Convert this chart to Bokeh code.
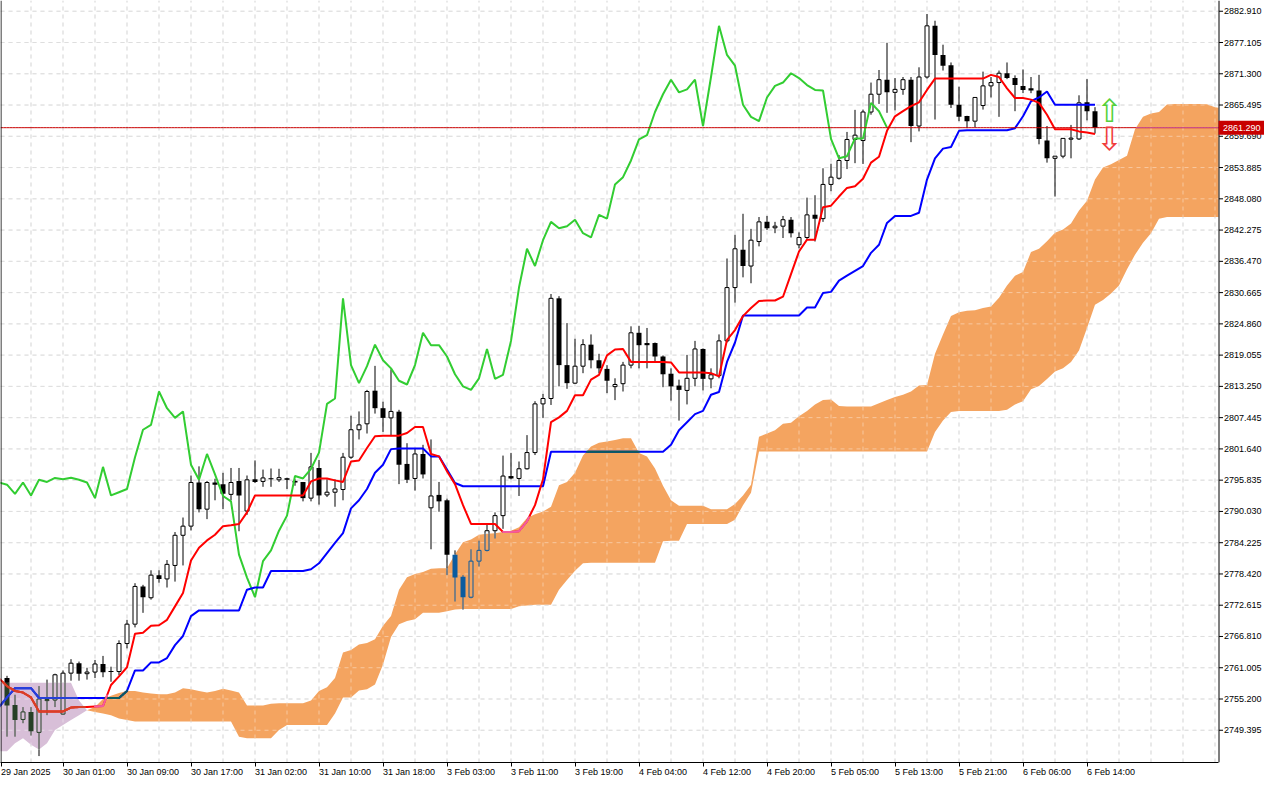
import numpy as np
from bokeh.plotting import figure
from bokeh.models import FixedTicker, Range1d
from bokeh.core.properties import value
from bokeh.embed import file_html
from bokeh.resources import INLINE

# ---------------- data (XAUUSD H1, bars indexed from 29 Jan 17:00) ----------------
opens = [2759.1, 2754.1, 2751.4, 2752.8, 2749.0, 2754.9, 2755.0, 2752.4, 2760.0, 2761.85,
         2759.9, 2760.2, 2761.7, 2760.4, 2760.3, 2765.5, 2769.1, 2776.1, 2774.0, 2778.2,
         2777.5, 2780.0, 2785.6, 2787.3, 2795.4, 2790.45, 2795.4, 2795.1, 2793.2, 2795.7,
         2790.1, 2796.0, 2795.6, 2796.2, 2795.9, 2796.2, 2795.7, 2795.5, 2792.5, 2798.1,
         2793.1, 2793.6, 2794.1, 2800.1, 2805.2, 2806.3, 2812.45, 2809.2, 2807.4, 2808.55,
         2798.85, 2796.15, 2800.7, 2790.7, 2793.1, 2792.1, 2782.0, 2777.9, 2774.1, 2780.8,
         2782.8, 2786.45, 2789.25, 2796.6, 2796.15, 2797.95, 2800.96, 2810.0, 2811.0, 2829.6,
         2817.2, 2813.85, 2817.0, 2821.0, 2818.1, 2816.5, 2813.2, 2813.75, 2817.2, 2823.2,
         2821.3, 2821.3, 2818.8, 2815.6, 2813.4, 2812.5, 2814.75, 2820.2, 2814.65, 2815.25,
         2821.7, 2831.6, 2838.6, 2835.6, 2840.15, 2843.8, 2842.7, 2843.0, 2844.2, 2839.55,
         2840.9, 2845.1, 2844.4, 2850.75, 2851.9, 2855.2, 2859.1, 2858.9, 2864.2, 2867.5,
         2870.2, 2867.85, 2868.4, 2870.2, 2861.6, 2870.7, 2880.2, 2874.8, 2872.9, 2865.55,
         2863.45, 2862.5, 2865.4, 2869.05, 2869.67, 2871.4, 2870.5, 2869.05, 2868.6, 2868.2,
         2858.9, 2855.6, 2856.0, 2859.15, 2859.2, 2866.0, 2864.35]
highs = [2759.5, 2756.0, 2753.7, 2753.7, 2757.6, 2758.8, 2759.9, 2760.5, 2762.6, 2762.15,
         2761.0, 2762.45, 2763.2, 2761.2, 2766.1, 2769.9, 2776.7, 2776.4, 2779.1, 2779.1,
         2781.0, 2786.2, 2788.9, 2796.7, 2798.4, 2795.7, 2796.1, 2797.2, 2798.1, 2798.1,
         2796.7, 2799.5, 2797.8, 2798.0, 2797.95, 2796.3, 2796.0, 2795.5, 2800.9, 2799.6,
         2796.0, 2796.0, 2800.9, 2807.8, 2808.6, 2812.6, 2817.06, 2810.4, 2816.4, 2808.9,
         2802.7, 2801.8, 2802.4, 2803.4, 2795.5, 2792.4, 2782.8, 2778.2, 2783.0, 2784.6,
         2787.85, 2789.85, 2800.4, 2800.9, 2799.3, 2804.2, 2810.5, 2811.85, 2830.4, 2830.0,
         2825.0, 2822.1, 2822.0, 2822.9, 2819.3, 2817.2, 2814.75, 2817.8, 2824.4, 2824.5,
         2824.1, 2821.4, 2819.0, 2816.6, 2814.5, 2819.1, 2821.7, 2820.3, 2816.6, 2822.9,
         2837.0, 2841.4, 2845.3, 2842.5, 2844.7, 2844.9, 2843.8, 2844.9, 2844.7, 2841.85,
         2848.3, 2848.75, 2853.75, 2854.6, 2856.2, 2860.5, 2864.6, 2864.65, 2869.67, 2872.0,
         2877.05, 2870.5, 2870.7, 2870.7, 2872.5, 2882.4, 2881.15, 2876.7, 2873.4, 2868.9,
         2863.5, 2866.9, 2871.7, 2870.7, 2871.9, 2873.4, 2871.0, 2872.1, 2870.7, 2871.1,
         2861.6, 2856.0, 2859.3, 2861.8, 2867.3, 2870.3, 2865.1]
lows = [2748.2, 2748.2, 2750.7, 2748.4, 2744.6, 2752.2, 2753.7, 2752.3, 2758.6, 2758.6,
        2758.8, 2759.1, 2759.25, 2758.4, 2759.6, 2764.6, 2768.5, 2771.2, 2773.65, 2776.8,
        2775.9, 2777.0, 2780.0, 2786.5, 2789.85, 2788.6, 2792.1, 2790.45, 2792.1, 2786.35,
        2789.4, 2795.3, 2794.6, 2794.6, 2795.5, 2794.2, 2794.8, 2791.9, 2791.9, 2791.3,
        2792.7, 2790.9, 2792.1, 2799.8, 2803.4, 2804.5, 2808.2, 2804.8, 2804.0, 2795.1,
        2795.3, 2793.9, 2796.15, 2783.0, 2789.97, 2778.2, 2773.3, 2771.8, 2773.9, 2779.8,
        2782.6, 2785.0, 2786.8, 2796.0, 2792.9, 2797.8, 2800.5, 2807.4, 2809.8, 2813.25,
        2812.8, 2813.7, 2815.7, 2816.6, 2815.7, 2812.0, 2810.7, 2812.3, 2816.6, 2816.6,
        2816.6, 2817.9, 2813.1, 2810.6, 2806.9, 2809.9, 2813.25, 2812.5, 2812.9, 2814.75,
        2821.4, 2828.8, 2833.5, 2832.4, 2839.25, 2842.3, 2841.7, 2840.8, 2840.9, 2838.9,
        2840.5, 2840.15, 2843.8, 2849.5, 2851.65, 2853.6, 2854.7, 2854.55, 2863.7, 2865.7,
        2864.05, 2864.5, 2867.4, 2858.6, 2860.6, 2870.4, 2862.8, 2871.9, 2864.95, 2862.5,
        2861.2, 2861.3, 2864.65, 2866.9, 2863.3, 2870.3, 2864.35, 2867.7, 2867.7, 2858.2,
        2854.8, 2848.5, 2855.6, 2855.6, 2859.0, 2862.65, 2860.2]
closes = [2754.0, 2751.3, 2752.8, 2749.2, 2755.2, 2755.1, 2759.7, 2760.0, 2761.85, 2759.9,
          2760.2, 2761.7, 2760.15, 2760.2, 2765.5, 2769.1, 2776.1, 2774.1, 2778.2, 2777.5,
          2780.2, 2785.6, 2787.3, 2795.4, 2790.45, 2795.4, 2795.0, 2793.3, 2795.4, 2793.0,
          2795.9, 2795.5, 2796.25, 2796.0, 2796.3, 2795.9, 2795.4, 2792.5, 2798.3, 2793.0,
          2793.6, 2794.2, 2800.1, 2805.2, 2806.1, 2812.3, 2809.2, 2807.4, 2808.6, 2798.7,
          2795.9, 2800.7, 2796.9, 2792.9, 2791.9, 2782.0, 2777.75, 2774.1, 2780.8, 2782.8,
          2786.45, 2789.25, 2796.6, 2796.15, 2797.95, 2800.96, 2810.0, 2811.0, 2829.6, 2817.2,
          2813.85, 2817.0, 2821.0, 2818.1, 2816.6, 2814.3, 2813.6, 2817.2, 2823.2, 2820.9,
          2820.9, 2818.8, 2815.5, 2813.25, 2812.6, 2814.75, 2820.2, 2814.65, 2815.4, 2821.7,
          2831.6, 2838.8, 2835.6, 2840.4, 2843.8, 2842.6, 2843.0, 2844.2, 2841.7, 2840.9,
          2845.1, 2844.4, 2850.75, 2852.1, 2855.2, 2859.1, 2859.9, 2864.2, 2867.5, 2870.2,
          2867.85, 2868.4, 2870.2, 2861.6, 2870.7, 2880.2, 2874.8, 2872.8, 2865.55, 2863.3,
          2862.5, 2866.9, 2869.05, 2869.67, 2871.4, 2870.5, 2869.2, 2868.3, 2868.2, 2859.2,
          2855.6, 2856.0, 2859.3, 2859.3, 2865.9, 2864.35, 2861.29]

# Tenkan-sen / Kijun-sen, bar -1 .. 136
tenkan = [2759.0, 2757.6, 2756.7, 2756.4, 2755.5, 2752.9, 2752.9, 2752.9, 2752.9, 2753.6,
          2753.7, 2753.7, 2753.8, 2753.9, 2757.8, 2759.4, 2761.1, 2767.3, 2767.5, 2768.8,
          2768.9, 2769.9, 2772.4, 2774.9, 2780.9, 2783.3, 2784.65, 2785.7, 2787.3, 2787.45,
          2787.7, 2789.85, 2793.0, 2793.0, 2793.0, 2793.0, 2793.0, 2793.0, 2793.0, 2795.6,
          2796.15, 2796.15, 2795.8, 2795.5, 2799.3, 2799.5, 2801.8, 2804.0, 2804.1, 2804.1,
          2804.1, 2804.6, 2805.7, 2805.7, 2800.7, 2800.25, 2797.5, 2795.1, 2791.2, 2787.7,
          2787.7, 2787.7, 2787.7, 2786.2, 2786.2, 2786.35, 2788.2, 2791.2, 2796.0, 2806.6,
          2807.5, 2808.7, 2811.6, 2811.6, 2814.5, 2815.4, 2819.0, 2820.1, 2820.2, 2817.8,
          2817.8, 2817.8, 2817.8, 2817.8, 2817.7, 2815.85, 2815.85, 2815.85, 2815.85, 2815.7,
          2815.1, 2821.9, 2823.7, 2826.3, 2827.8, 2829.1, 2829.2, 2829.2, 2829.9, 2834.1,
          2838.3, 2840.5, 2840.5, 2846.5, 2846.8, 2848.5, 2850.1, 2850.4, 2851.8, 2854.8,
          2855.9, 2860.7, 2863.4, 2864.35, 2865.3, 2866.0, 2868.3, 2870.4, 2870.4, 2870.4,
          2870.4, 2870.4, 2870.4, 2870.4, 2871.1, 2870.7, 2868.6, 2866.8, 2866.8, 2866.5,
          2865.9, 2863.7, 2861.0, 2861.0, 2861.0, 2860.6, 2860.4, 2860.1]
kijun = [2753.7, 2755.5, 2757.2, 2757.2, 2757.2, 2755.4, 2755.4, 2755.4, 2755.4, 2755.4,
         2755.4, 2755.4, 2755.4, 2755.4, 2755.4, 2755.4, 2756.7, 2760.5, 2760.5, 2762.0,
         2762.0, 2762.8, 2765.2, 2766.9, 2770.6, 2771.65, 2771.65, 2771.65, 2771.65, 2771.65,
         2771.65, 2775.5, 2775.9, 2775.9, 2778.96, 2778.96, 2778.96, 2778.96, 2778.96, 2779.3,
         2780.4, 2782.3, 2784.2, 2786.0, 2790.6, 2792.1, 2794.2, 2797.2, 2798.7, 2801.6,
         2801.7, 2801.7, 2801.7, 2801.7, 2800.25, 2800.25, 2797.8, 2795.3, 2794.7, 2794.7,
         2794.7, 2794.7, 2794.7, 2794.7, 2794.7, 2794.7, 2794.7, 2794.7, 2794.7, 2801.1,
         2801.1, 2801.1, 2801.1, 2801.1, 2801.1, 2801.1, 2801.1, 2801.1, 2801.1, 2801.1,
         2801.1, 2801.1, 2801.1, 2801.1, 2802.4, 2805.1, 2806.6, 2808.1, 2808.7, 2811.7,
         2812.2, 2817.8, 2821.4, 2826.4, 2826.4, 2826.4, 2826.4, 2826.4, 2826.4, 2826.4,
         2826.4, 2827.9, 2827.9, 2830.6, 2830.8, 2832.9, 2833.8, 2834.7, 2835.6, 2838.05,
         2839.55, 2843.6, 2844.9, 2844.9, 2844.9, 2845.5, 2851.65, 2855.6, 2857.4, 2857.7,
         2860.7, 2860.8, 2860.8, 2860.8, 2860.8, 2860.8, 2860.8, 2861.2, 2863.4, 2866.2,
         2866.9, 2868.0, 2865.55, 2865.55, 2865.55, 2865.55, 2865.55, 2865.55]

# Senkou span A / B (already shifted 26 bars forward), bar -1 .. 152
span_a = [2745.5, 2745.5, 2747.0, 2747.9, 2746.7, 2745.8, 2747.0, 2749.45, 2750.35, 2751.3,
          2752.2, 2753.1, 2753.7, 2755.2, 2755.8, 2756.3, 2756.7, 2756.7, 2756.4, 2756.2,
          2756.1, 2756.1, 2756.4, 2757.2, 2757.0, 2756.7, 2756.4, 2756.7, 2757.1, 2756.8,
          2756.4, 2754.0, 2754.0, 2754.0, 2754.3, 2754.4, 2754.4, 2754.4, 2754.4, 2754.9,
          2756.7, 2757.4, 2759.1, 2763.85, 2764.3, 2765.3, 2765.6, 2766.3, 2768.8, 2770.6,
          2775.5, 2777.8, 2778.4, 2778.8, 2779.4, 2779.5, 2779.5, 2782.1, 2784.3, 2784.8,
          2785.7, 2785.9, 2786.0, 2786.2, 2786.45, 2787.1, 2788.8, 2789.5, 2790.0, 2790.9,
          2794.9, 2795.5, 2797.2, 2800.4, 2802.1, 2802.8, 2803.0, 2803.3, 2803.6, 2803.6,
          2800.9, 2800.25, 2798.0, 2794.8, 2792.1, 2791.1, 2791.1, 2791.1, 2791.1, 2790.45,
          2790.45, 2790.45, 2791.4, 2793.0, 2795.0, 2803.9, 2804.5, 2805.1, 2806.3, 2806.5,
          2807.7, 2808.7, 2809.9, 2810.7, 2810.8, 2809.6, 2809.5, 2809.5, 2809.5, 2809.5,
          2810.1, 2810.7, 2811.3, 2811.7, 2812.3, 2813.4, 2813.5, 2819.3, 2822.9, 2826.3,
          2827.0, 2827.3, 2827.4, 2827.8, 2828.1, 2829.7, 2832.0, 2833.8, 2834.5, 2838.2,
          2838.8, 2840.2, 2841.8, 2842.4, 2843.5, 2845.9, 2847.7, 2851.65, 2853.9, 2854.5,
          2855.3, 2856.1, 2861.0, 2863.3, 2863.9, 2864.2, 2865.6, 2865.7, 2865.7, 2865.7,
          2865.7, 2865.65, 2865.1, 2864.9]
span_b = [2758.2, 2758.2, 2758.2, 2758.2, 2758.2, 2758.2, 2758.2, 2758.2, 2758.2, 2758.2,
          2754.9, 2753.1, 2752.8, 2752.5, 2752.2, 2751.6, 2751.3, 2751.0, 2751.0, 2751.0,
          2751.0, 2751.0, 2751.0, 2751.0, 2751.0, 2751.0, 2751.0, 2751.0, 2751.0, 2751.0,
          2748.2, 2747.9, 2747.9, 2747.9, 2747.9, 2749.45, 2750.35, 2750.35, 2750.35, 2750.35,
          2750.35, 2750.35, 2752.5, 2755.5, 2755.5, 2756.8, 2757.0, 2757.9, 2761.6, 2766.7,
          2769.1, 2769.7, 2770.0, 2771.2, 2771.2, 2771.2, 2771.5, 2771.8, 2771.9, 2771.9,
          2771.9, 2771.9, 2771.9, 2771.9, 2771.9, 2772.4, 2772.55, 2772.7, 2772.7, 2772.7,
          2775.5, 2777.3, 2779.0, 2780.4, 2780.5, 2780.5, 2780.5, 2780.5, 2780.5, 2780.5,
          2780.5, 2780.5, 2780.5, 2784.5, 2784.6, 2784.6, 2787.7, 2787.7, 2787.7, 2787.7,
          2787.7, 2787.7, 2788.5, 2791.2, 2793.5, 2801.15, 2801.15, 2801.15, 2801.15, 2801.15,
          2801.15, 2801.15, 2801.15, 2801.15, 2801.15, 2801.15, 2801.15, 2801.15, 2801.15, 2801.15,
          2801.15, 2801.15, 2801.15, 2801.15, 2801.15, 2801.15, 2801.15, 2804.8, 2806.9, 2808.5,
          2808.7, 2808.7, 2808.7, 2808.7, 2808.7, 2808.7, 2808.9, 2809.9, 2810.5, 2812.7,
          2813.3, 2814.6, 2816.0, 2816.6, 2817.8, 2819.9, 2824.1, 2828.4, 2829.3, 2830.5,
          2832.0, 2835.0, 2837.7, 2839.9, 2841.7, 2844.4, 2844.7, 2844.7, 2844.7, 2844.7,
          2844.7, 2844.7, 2844.7, 2844.7]

chikou_shift = 26
time_labels = ["29 Jan 2025", "30 Jan 01:00", "30 Jan 09:00", "30 Jan 17:00", "31 Jan 02:00",
               "31 Jan 10:00", "31 Jan 18:00", "3 Feb 03:00", "3 Feb 11:00", "3 Feb 19:00",
               "4 Feb 04:00", "4 Feb 12:00", "4 Feb 20:00", "5 Feb 05:00", "5 Feb 13:00",
               "5 Feb 21:00", "6 Feb 06:00", "6 Feb 14:00"]
time_label_bars = [-1, 7, 15, 23, 31, 39, 47, 55, 63, 71, 79, 87, 95, 103, 111, 119, 127, 135]
price_ticks = [2749.395, 2755.200, 2761.005, 2766.810, 2772.615, 2778.420, 2784.225, 2790.030,
               2795.835, 2801.640, 2807.445, 2813.250, 2819.055, 2824.860, 2830.665, 2836.470,
               2842.275, 2848.080, 2853.885, 2859.690, 2865.495, 2871.300, 2877.105, 2882.910]
last_price = 2861.29
signal_bar = 137.8
signal_up_price = 2864.4
signal_down_price = 2859.1

# ---------------- layout / styling ----------------
FONT = "Liberation Sans"
ORANGE = "#f4a460"
THISTLE = "#d8bfd8"
XOR_O = {"black": "#0b5b9f", "white": ORANGE, "red": "#f45b9f", "blue": "#0b5b60", "bid": "#cb5b9f"}
XOR_P = {"black": "#274027", "white": THISTLE, "red": "#d84027", "blue": "#2740d8", "bid": "#d87f27"}

W, H = 1264, 784          # figure size
BB = 21                   # bottom axis band
CHART_W = 1218            # width of the price area, the rest is the price scale
PX_BAR = 8.0              # pixels per bar
frame_h = H - BB
x0 = -0.8125
x1 = x0 + W / PX_BAR
chart_right = x0 + CHART_W / PX_BAR
y_hi = 2884.9055
y_lo = 2743.4086
upp = (y_hi - y_lo) / frame_h     # price units per pixel

p = figure(width=W, height=H, output_backend="svg", toolbar_location=None,
           x_range=Range1d(x0, x1), y_range=Range1d(y_lo, y_hi),
           x_axis_location="below", y_axis_location=None,
           min_border_left=0, min_border_top=0, min_border_right=0, min_border_bottom=BB)
p.background_fill_color = "white"
p.border_fill_color = "white"
p.outline_line_color = None

# time axis
first_tick = x0 + 0.5 / PX_BAR
tick_pos = [max(b, first_tick) for b in time_label_bars]
p.xaxis.ticker = FixedTicker(ticks=tick_pos)
p.xaxis.major_label_overrides = {t: lab for t, lab in zip(tick_pos, time_labels)}
p.xaxis.bounds = (x0, chart_right)
p.xaxis.axis_line_color = "black"
p.xaxis.major_tick_line_color = "black"
p.xaxis.minor_tick_line_color = None
p.xaxis.major_tick_in = 0
p.xaxis.major_tick_out = 4
p.xaxis.major_label_text_font = FONT
p.xaxis.major_label_text_font_size = "9px"
p.xaxis.major_label_text_color = "black"
p.xaxis.major_label_orientation = -0.0001
p.xaxis.major_label_standoff = 5
for g in list(p.xgrid) + list(p.ygrid):
    g.visible = False

# grid lines (price area only): every 4 bars and at each price tick
vgrid = list(range(3, 152, 4))
grid = dict(x0=[x0] * len(price_ticks) + vgrid,
            y0=list(price_ticks) + [y_lo] * len(vgrid),
            x1=[chart_right] * len(price_ticks) + vgrid,
            y1=list(price_ticks) + [y_hi] * len(vgrid))
p.segment(x0="x0", y0="y0", x1="x1", y1="y1", line_color="#c9c9c9", line_dash="4 4",
          line_width=1, source=grid)

# ---------------- cloud ----------------
A = np.array(span_a)
B = np.array(span_b)
cx = np.arange(-1, -1 + len(A))
keep = cx <= chart_right
ccx = np.append(cx[keep], chart_right)
ca = np.append(A[keep], np.interp(chart_right, cx, A))
cb = np.append(B[keep], np.interp(chart_right, cx, B))
ctop = np.maximum(ca, cb)
p.varea(x=ccx, y1=cb, y2=ctop, fill_color=ORANGE)
p.varea(x=ccx, y1=ca, y2=ctop, fill_color=THISTLE)
# grid shows through the cloud as pale dashes
p.segment(x0="x0", y0="y0", x1="x1", y1="y1", line_color="white", line_alpha=0.4,
          line_dash="4 4", line_width=1, source=grid)


def cloud_at(k):
    a = float(np.interp(k, cx, A))
    b = float(np.interp(k, cx, B))
    return min(a, b), max(a, b), (XOR_O if a >= b else XOR_P)


def split(a, b, lo, hi):
    a, b = min(a, b), max(a, b)
    if b <= lo or a >= hi:
        return [(a, b, False)]
    out = []
    if a < lo:
        out.append((a, lo, False))
    out.append((max(a, lo), min(b, hi), True))
    if b > hi:
        out.append((hi, b, False))
    return out


def overlay(xs, ys, key, sub=4):
    seg = dict(x0=[], y0=[], x1=[], y1=[], c=[])
    for i in range(len(xs) - 1):
        for s in range(sub):
            t0, t1 = s / sub, (s + 1) / sub
            xa = xs[i] + (xs[i + 1] - xs[i]) * t0
            xb = xs[i] + (xs[i + 1] - xs[i]) * t1
            ya = ys[i] + (ys[i + 1] - ys[i]) * t0
            yb = ys[i] + (ys[i + 1] - ys[i]) * t1
            xm, ym = (xa + xb) / 2, (ya + yb) / 2
            if xm < cx[0] or xm > cx[-1]:
                continue
            lo, hi, cmap = cloud_at(xm)
            if lo < ym < hi:
                seg["x0"].append(xa); seg["y0"].append(ya)
                seg["x1"].append(xb); seg["y1"].append(yb)
                seg["c"].append(cmap[key])
    return seg


# ---------------- candles ----------------
wick = dict(x0=[], y0=[], x1=[], y1=[], c=[])
body = dict(x=[], bottom=[], top=[], c=[])
edge = dict(x0=[], y0=[], x1=[], y1=[], c=[])
HW = 2 / PX_BAR
for k in range(len(opens)):
    o, h, l, c = opens[k], highs[k], lows[k], closes[k]
    lo, hi, cmap = cloud_at(k)
    for a, b, ins in split(l, h, lo, hi):
        wick["x0"].append(k); wick["x1"].append(k)
        wick["y0"].append(a); wick["y1"].append(b)
        wick["c"].append(cmap["black"] if ins else "black")
    bot, tp = min(o, c), max(o, c)
    bull = c >= o
    if tp - bot < 0.2:
        tp = bot + 0.2
    for a, b, ins in split(bot, tp, lo, hi):
        key = "white" if bull else "black"
        body["x"].append(k); body["bottom"].append(a); body["top"].append(b)
        body["c"].append(cmap[key] if ins else key)
        if bull:
            col = cmap["black"] if ins else "black"
            for dx in (-HW, HW):
                edge["x0"].append(k + dx); edge["x1"].append(k + dx)
                edge["y0"].append(a); edge["y1"].append(b); edge["c"].append(col)
    if bull:
        for yy in (bot, tp):
            ins = lo < yy < hi
            edge["x0"].append(k - HW); edge["x1"].append(k + HW)
            edge["y0"].append(yy); edge["y1"].append(yy)
            edge["c"].append(cmap["black"] if ins else "black")

p.segment(x0="x0", y0="y0", x1="x1", y1="y1", line_color="c", line_width=1, source=wick)
p.vbar(x="x", bottom="bottom", top="top", width=5 / PX_BAR, fill_color="c", line_color=None, source=body)
p.segment(x0="x0", y0="y0", x1="x1", y1="y1", line_color="c", line_width=1, source=edge)

# ---------------- Ichimoku lines ----------------
chx = list(range(-1, len(closes) - chikou_shift))
chy = closes[chikou_shift - 1:]
p.line(chx, chy, line_color="#32cd32", line_width=2)

lx = list(range(-1, -1 + len(tenkan)))
p.line(lx, kijun, line_color="#0000ff", line_width=2)
ov = overlay(lx, kijun, "blue")
p.segment(x0="x0", y0="y0", x1="x1", y1="y1", line_color="c", line_width=2, line_cap="round", source=ov)
p.line(lx, tenkan, line_color="#ff0000", line_width=2)
ov = overlay(lx, tenkan, "red")
p.segment(x0="x0", y0="y0", x1="x1", y1="y1", line_color="c", line_width=2, line_cap="round", source=ov)

# ---------------- bid line and signal arrows ----------------
bx = list(np.linspace(x0, chart_right, 400))
by = [last_price] * len(bx)
p.line(bx, by, line_color="#c80000", line_width=1)
ov = overlay(bx, by, "bid", sub=1)
p.segment(x0="x0", y0="y0", x1="x1", y1="y1", line_color="c", line_width=1, source=ov)

p.text(x=[signal_bar], y=[signal_up_price], text=["\u21e7"], text_color="#55d13a",
       text_font=value("DejaVu Sans"), text_font_size="32px", text_align="center",
       text_baseline="middle")
p.text(x=[signal_bar], y=[signal_down_price], text=["\u21e9"], text_color="#f03c3c",
       text_font=value("DejaVu Sans"), text_font_size="32px", text_align="center",
       text_baseline="middle")

# ---------------- price scale (right band) ----------------
left_border = x0 + 0.5 / PX_BAR
axis_x = chart_right + 0.5 / PX_BAR
p.segment(x0=[left_border], y0=[y_lo], x1=[left_border], y1=[y_hi], line_color="black", line_width=1)
p.segment(x0=[axis_x], y0=[y_lo], x1=[axis_x], y1=[y_hi], line_color="black", line_width=1)
p.segment(x0=[axis_x] * len(price_ticks), y0=price_ticks,
          x1=[axis_x + 4 / PX_BAR] * len(price_ticks), y1=price_ticks,
          line_color="black", line_width=1)
p.text(x=[axis_x + 5 / PX_BAR] * len(price_ticks), y=price_ticks,
       text=["%.3f" % v for v in price_ticks], text_color="black",
       text_font=value(FONT), text_font_size="9px", text_align="left", text_baseline="middle")
p.quad(left=[chart_right], right=[x1], bottom=[last_price - 7 * upp], top=[last_price + 7 * upp],
       fill_color="#c80000", line_color=None)
p.text(x=[axis_x + 4 / PX_BAR], y=[last_price], text=["%.3f" % last_price], text_color="white",
       text_font=value(FONT), text_font_size="9px", text_align="left", text_baseline="middle")

open("out.html", "w").write(file_html(p, INLINE))
